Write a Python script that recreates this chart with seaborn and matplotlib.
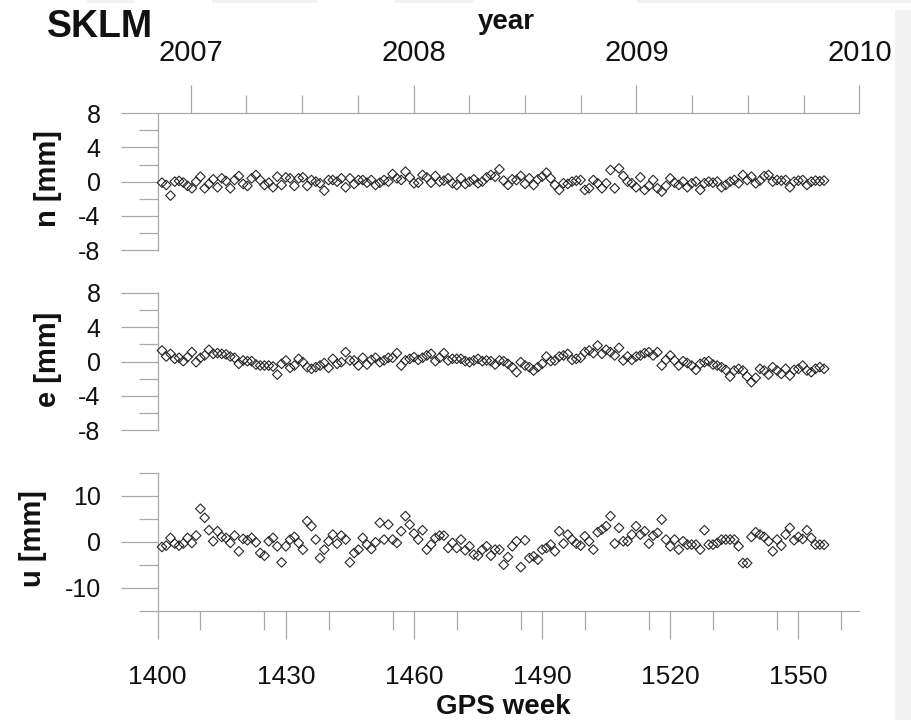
import numpy as np
import pandas as pd
import matplotlib
matplotlib.use("Agg")
import matplotlib.pyplot as plt
from matplotlib.ticker import MultipleLocator, FixedLocator, FuncFormatter
from matplotlib.patches import Rectangle
import seaborn as sns

# ---------------- data ----------------
station = "SKLM"
weeks = list(range(1401, 1557))

n_mm = [-0.12, -0.39, -1.63, 0.0, 0.08, -0.1, -0.5, -0.78, 0.0, 0.58,
        -0.78, -0.27, 0.27, -0.66, 0.39, 0.08, -0.78, 0.19, 0.66, -0.27,
        -0.5, 0.39, 0.78, 0.19, -0.39, -0.12, -0.66, 0.58, -0.39, 0.5,
        0.39, -0.5, 0.39, 0.5, -0.5, 0.19, 0.0, -0.19, -1.05, 0.19,
        0.19, 0.0, 0.39, -0.66, 0.39, -0.27, 0.19, 0.19, -0.12, 0.19,
        -0.39, -0.12, 0.19, 0.0, 0.89, 0.39, 0.19, 1.17, 0.5, -0.19,
        -0.12, 0.78, 0.5, -0.12, 0.66, 0.0, 0.12, 0.39, -0.19, -0.39,
        0.39, -0.27, 0.0, 0.27, -0.19, 0.0, 0.5, 0.78, 0.58, 1.44,
        0.12, -0.39, 0.27, 0.19, 0.66, -0.27, 0.39, -0.39, 0.27, 0.58,
        1.05, 0.39, -0.39, -0.97, -0.19, -0.27, 0.0, 0.12, 0.19, -0.97,
        -0.78, 0.19, -0.19, -0.78, -0.19, 1.36, -0.78, 1.55, 0.66, 0.0,
        -0.19, -0.66, 0.5, -0.97, -0.5, 0.19, -0.78, -1.17, -0.5, 0.39,
        -0.12, -0.39, 0.0, -0.66, -0.19, 0.0, -0.97, -0.19, 0.0, -0.12,
        0.0, -0.66, -0.39, 0.0, 0.19, -0.19, 0.78, 0.19, 0.58, -0.19,
        0.12, 0.66, 0.78, 0.0, 0.19, 0.12, 0.19, -0.66, 0.0, 0.12,
        0.19, -0.39, 0.0, 0.12, 0.05, 0.12]

e_mm = [1.28, 0.58, 0.89, 0.31, 0.43, 0.04, 0.51, 1.09, -0.08, 0.43,
        0.70, 1.36, 0.89, 0.97, 0.89, 0.82, 0.58, 0.43, -0.27, 0.12,
        0.04, 0.04, -0.35, -0.47, -0.47, -0.47, -0.58, -1.52, -0.27, 0.12,
        -0.74, -0.47, 0.31, -0.08, -0.66, -0.85, -0.66, -0.47, -0.19, -0.74,
        0.31, -0.27, -0.08, 1.09, 0.12, 0.12, -0.47, 0.43, -0.35, 0.19,
        0.43, -0.08, 0.12, 0.43, 0.43, 0.97, -0.47, 0.12, 0.31, 0.51,
        0.19, 0.43, 0.70, 0.89, 0.04, 0.43, 0.97, 0.12, 0.31, 0.31,
        0.31, 0.04, -0.08, 0.12, 0.31, 0.04, 0.12, 0.04, -0.35, 0.12,
        0.04, -0.27, -0.66, -1.24, -0.08, -0.47, -0.66, -1.05, -0.66, -0.27,
        0.58, 0.04, 0.12, 0.58, 0.70, 0.89, 0.19, 0.31, 0.43, 1.09,
        1.28, 0.97, 1.86, 0.89, 1.36, 1.09, 0.70, 1.59, 0.12, 0.58,
        0.19, 0.58, 0.70, 0.97, 1.09, 0.70, 1.09, -0.47, 0.19, 0.70,
        0.12, -0.47, 0.04, -0.19, -0.47, -0.97, -0.27, -0.08, 0.04, -0.35,
        -0.47, -0.66, -0.97, -1.75, -1.05, -0.85, -1.05, -1.75, -2.41, -1.90,
        -0.85, -1.05, -1.52, -0.66, -1.05, -1.44, -0.85, -1.63, -0.97, -0.85,
        -0.47, -1.05, -1.24, -0.85, -0.66, -0.85]

u_mm = [-1.17, -0.88, 0.80, -0.44, -0.88, -0.44, 0.80, -0.29, 1.31, 7.15,
        5.18, 2.48, 0.07, 2.26, 1.02, 0.80, -0.29, 1.31, -2.12, 0.58,
        0.29, 0.80, -0.15, -2.48, -3.07, 0.07, 0.80, -1.02, -4.53, -1.02,
        0.44, 1.02, -0.29, -1.75, 4.45, 3.36, 0.44, -3.58, -1.75, 0.07,
        1.53, -0.44, 1.31, 0.44, -4.53, -2.48, -1.75, 0.80, -0.66, -1.61,
        -0.15, 4.09, 0.44, 3.72, 0.44, -0.29, 2.26, 5.55, 3.72, 1.75,
        0.44, 2.48, -1.75, -0.66, 0.80, 1.31, 1.31, -1.39, -0.29, -1.39,
        0.44, -1.90, -1.02, -2.85, -3.07, -1.75, -1.02, -3.07, -1.75, -1.75,
        -5.04, -3.36, -1.02, 0.07, -5.55, 0.29, -3.58, -3.21, -3.94, -1.75,
        -1.39, -0.66, -2.12, 2.26, -0.44, 1.53, 0.44, -0.44, -0.88, 1.17,
        0.07, -1.75, 2.04, 2.63, 3.36, 5.55, -0.44, 2.99, 0.07, 0.07,
        1.53, 3.36, 1.53, 2.26, -0.44, 1.31, 1.90, 4.82, 0.44, -1.02,
        0.44, -1.75, 0.07, -0.66, -0.66, -0.66, -1.75, 2.48, -0.66, -0.66,
        -0.29, 0.44, 0.44, 0.44, 0.44, -1.02, -4.67, -4.67, 1.02, 2.04,
        1.53, 1.02, 0.07, -2.12, 0.44, -0.88, 1.53, 2.99, 0.29, 1.02,
        0.58, 2.48, 0.80, -0.66, -0.66, -0.70]

panel_labels = ["n [mm]", "e [mm]", "u [mm]"]
gps_ticks = [1400, 1430, 1460, 1490, 1520, 1550]
year_ticks = [2007, 2008, 2009, 2010]

df = pd.DataFrame({"week": weeks, "n": n_mm, "e": e_mm, "u": u_mm})

# ---------------- style ----------------
sns.set_style("white")
plt.rcParams["font.family"] = ["Liberation Sans", "DejaVu Sans"]
plt.rcParams["axes.unicode_minus"] = False

GRAY = "#a8a8a8"
MARK = "#262626"
TXT = "#111111"
PX = 72 / 100.0  # points per pixel

fig = plt.figure(figsize=(9.12, 7.2), dpi=100)
fig.patch.set_facecolor("white")

# light grey page remnants of the scan
fig.add_artist(Rectangle((895 / 912, 0), 17 / 912, 710 / 720,
                         transform=fig.transFigure, color="#f2f2f2", lw=0, zorder=0))
for x0, x1 in [(87, 135), (212, 317), (395, 474), (637, 912)]:
    fig.add_artist(Rectangle((x0 / 912, 717 / 720), (x1 - x0) / 912, 3 / 720,
                             transform=fig.transFigure, color="#f2f2f2", lw=0, zorder=0))

LEFT = 157.7 / 912
WIDTH = (859.5 - 157.7) / 912


def add_panel(top, bottom):
    return fig.add_axes([LEFT, (720 - bottom) / 720, WIDTH, (bottom - top) / 720])


ax_n = add_panel(113.3, 250.0)
ax_e = add_panel(292.7, 430.3)
ax_u = add_panel(472.7, 610.5)

specs = [
    (ax_n, "n", (-8, 8), 4, 2, 48, 179),
    (ax_e, "e", (-8, 8), 4, 2, 48, 359),
    (ax_u, "u", (-15, 15), 10, 5, 33, 539),
]

for (ax, col, ylim, maj, mnr, lx, ly), lab in zip(specs, panel_labels):
    sns.scatterplot(data=df, x="week", y=col, ax=ax, marker="D", s=24,
                    facecolor="none", edgecolor=MARK, linewidth=0.8,
                    legend=False, clip_on=False, zorder=3)
    ax.set_xlim(1400, 1564.3)
    ax.set_ylim(*ylim)
    ax.set_facecolor("none")
    ax.set_xlabel("")
    ax.set_ylabel("")
    for sp in ["top", "right", "bottom"]:
        ax.spines[sp].set_visible(False)
    ax.spines["left"].set_color(GRAY)
    ax.spines["left"].set_linewidth(0.9)
    ax.yaxis.set_major_locator(MultipleLocator(maj))
    ax.yaxis.set_minor_locator(MultipleLocator(mnr))
    ax.yaxis.set_major_formatter(FuncFormatter(lambda v, p: f"{v:.0f}"))
    ax.tick_params(axis="y", which="major", left=True, direction="out",
                   length=37 * PX, width=0.9, color=GRAY, labelsize=18,
                   labelcolor=TXT, pad=20 * PX)
    ax.tick_params(axis="y", which="minor", left=True, direction="out",
                   length=19 * PX, width=0.9, color=GRAY)
    ax.tick_params(axis="x", which="both", bottom=False, top=False,
                   labelbottom=False)
    fig.text(lx / 912, 1 - ly / 720, lab, rotation=90, ha="center", va="center",
             fontsize=21, fontweight="bold", color=TXT)

# bottom GPS-week axis
ax_u.spines["bottom"].set_visible(True)
ax_u.spines["bottom"].set_color(GRAY)
ax_u.spines["bottom"].set_linewidth(0.9)
ax_u.xaxis.set_major_locator(FixedLocator(gps_ticks))
ax_u.xaxis.set_minor_locator(MultipleLocator(15))
ax_u.tick_params(axis="x", which="major", bottom=True, labelbottom=True,
                 direction="out", length=28 * PX, width=0.9, color=GRAY,
                 labelsize=19, labelcolor=TXT, pad=26 * PX)
ax_u.tick_params(axis="x", which="minor", bottom=True, direction="out",
                 length=19 * PX, width=0.9, color=GRAY)

# top calendar-year axis
W2007 = 1407.72
WPY = 52.18


def w2y(w):
    return 2007 + (np.asarray(w, dtype=float) - W2007) / WPY


def y2w(y):
    return W2007 + (np.asarray(y, dtype=float) - 2007) * WPY


sec = ax_n.secondary_xaxis("top", functions=(w2y, y2w))
sec.xaxis.set_major_locator(FixedLocator(year_ticks))
sec.xaxis.set_minor_locator(MultipleLocator(0.25))
sec.xaxis.set_major_formatter(FuncFormatter(lambda v, p: f"{v:.0f}"))
sec.tick_params(which="major", top=True, direction="out", length=28 * PX,
                width=0.9, color=GRAY, labelsize=21, labelcolor=TXT, pad=18 * PX)
sec.tick_params(which="minor", top=True, direction="out", length=18 * PX,
                width=0.9, color=GRAY)
for sp in sec.spines.values():
    sp.set_color(GRAY)
    sp.set_linewidth(0.9)

# titles / axis names
fig.text(47 / 912, 1 - 37 / 720, station, ha="left", va="baseline",
         fontsize=27, fontweight="bold", color=TXT)
fig.text(506 / 912, 1 - 29 / 720, "year", ha="center", va="baseline",
         fontsize=20, fontweight="bold", color=TXT)
fig.text(503 / 912, 1 - 714 / 720, "GPS week", ha="center", va="baseline",
         fontsize=20, fontweight="bold", color=TXT)

fig.savefig("out.png", dpi=100)
